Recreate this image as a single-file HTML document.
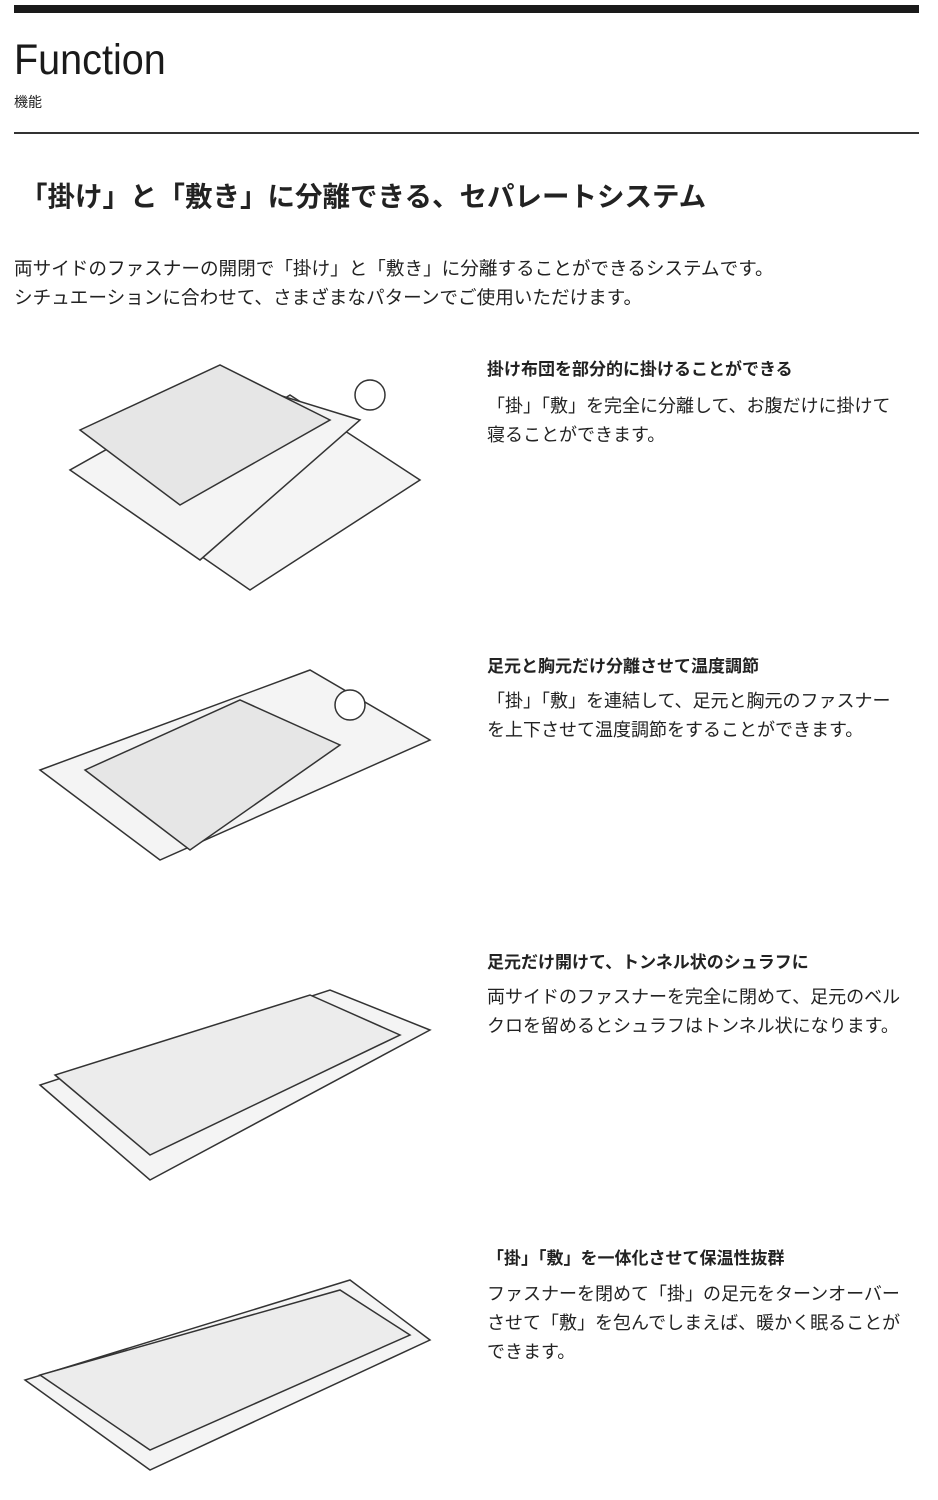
<!DOCTYPE html>
<html><head><meta charset="utf-8"><style>
body{margin:0;width:938px;height:1500px;background:#fff;position:relative;overflow:hidden;font-family:"Liberation Sans","Noto Sans CJK JP",sans-serif;color:#222}
.a{position:absolute;white-space:nowrap}
.t{font-weight:bold;font-size:17px}
.b{font-size:18px;line-height:29px}
</style></head><body>
<div class="a" style="left:14px;top:5px;width:905px;height:8px;background:#1a1a1a"></div>
<div class="a" style="left:14px;top:36px;font-size:43px;transform:scaleX(.92);transform-origin:left;color:#1a1a1a">Function</div>
<div class="a" style="left:14px;top:92px;font-size:14px">機能</div>
<div class="a" style="left:14px;top:132px;width:905px;height:2px;background:#333"></div>
<div class="a" style="left:20px;top:174px;font-size:27.5px;font-weight:bold">「掛け」と「敷き」に分離できる、セパレートシステム</div>
<div class="a b" style="left:14px;top:254px;font-size:18.6px">両サイドのファスナーの開閉で「掛け」と「敷き」に分離することができるシステムです。<br>シチュエーションに合わせて、さまざまなパターンでご使用いただけます。</div>

<div class="a t" style="left:487px;top:355px">掛け布団を部分的に掛けることができる</div>
<div class="a b" style="left:487px;top:392px">「掛」「敷」を完全に分離して、お腹だけに掛けて<br>寝ることができます。</div>
<div class="a t" style="left:487px;top:652px">足元と胸元だけ分離させて温度調節</div>
<div class="a b" style="left:487px;top:687px">「掛」「敷」を連結して、足元と胸元のファスナー<br>を上下させて温度調節をすることができます。</div>
<div class="a t" style="left:487px;top:948px">足元だけ開けて、トンネル状のシュラフに</div>
<div class="a b" style="left:487px;top:983px">両サイドのファスナーを完全に閉めて、足元のベル<br>クロを留めるとシュラフはトンネル状になります。</div>
<div class="a t" style="left:487px;top:1244px">「掛」「敷」を一体化させて保温性抜群</div>
<div class="a b" style="left:487px;top:1280px">ファスナーを閉めて「掛」の足元をターンオーバー<br>させて「敷」を包んでしまえば、暖かく眠ることが<br>できます。</div>

<svg class="a" style="left:0;top:0" width="470" height="1500">
<g fill="#f4f4f4" stroke="#333" stroke-width="1.5">
<polygon points="120,500 250,590 420,480 290,395"/>
<polygon points="70,470 200,560 360,420 230,380"/>
<polygon points="80,430 180,505 330,420 220,365" fill="#e6e6e6"/>
<circle cx="370" cy="395" r="15" fill="#fff"/>
<polygon points="40,770 160,860 430,740 310,670"/>
<polygon points="85,770 190,850 340,745 240,700" fill="#e6e6e6"/>
<circle cx="350" cy="705" r="15" fill="#fff"/>
<polygon points="40,1085 150,1180 430,1030 330,990"/>
<polygon points="55,1075 150,1155 400,1035 310,995" fill="#ececec"/>
<polygon points="25,1380 150,1470 430,1340 350,1280"/>
<polygon points="40,1375 150,1450 410,1335 340,1290" fill="#ececec"/>
</g></svg>
</body></html>
